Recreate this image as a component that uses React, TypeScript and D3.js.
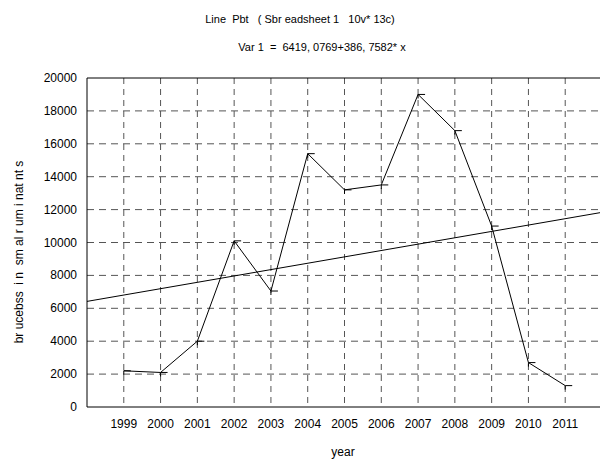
import React, { useEffect, useRef } from 'react';
import * as d3 from 'd3';

// values
const years = [1999, 2000, 2001, 2002, 2003, 2004, 2005, 2006, 2007, 2008, 2009, 2010, 2011];
const cases = [2200, 2100, 4000, 10100, 7050, 15400, 13200, 13500, 19000, 16800, 11000, 2700, 1300];
const yTicks = [0, 2000, 4000, 6000, 8000, 10000, 12000, 14000, 16000, 18000, 20000];
const fitIntercept = 6419.0769;
const fitSlope = 386.7582;

const title = 'Line  Pbt   ( Sbr eadsheet 1   10v* 13c)';
const subtitle = 'Var 1  =  6419, 0769+386, 7582* x';
const yTitle = 'br ucebss  i n  sm al r um i nat nt s';
const xTitle = 'year';

const App = () => {
  const ref = useRef<SVGSVGElement>(null);

  useEffect(() => {
    const svg = d3.select(ref.current);
    svg.selectAll('*').remove();

    const margin = { top: 78, right: 0, bottom: 52, left: 87 };
    const width = 600, height = 459;
    const font = 'Liberation Sans, Arial, sans-serif';

    const x = d3.scaleLinear().domain([1998, 2012]).range([margin.left, 602]);
    const y = d3.scaleLinear().domain([0, 20000]).range([height - margin.bottom, margin.top]);

    const g = svg.append('g');

    // dashed grid
    g.selectAll('.vgrid')
      .data(years)
      .enter()
      .append('line')
      .attr('x1', d => x(d)).attr('x2', d => x(d))
      .attr('y1', y(20000)).attr('y2', y(0))
      .attr('stroke', '#555').attr('stroke-width', 1)
      .attr('stroke-dasharray', '6,5');

    g.selectAll('.hgrid')
      .data(yTicks.filter(t => t > 0 && t < 20000))
      .enter()
      .append('line')
      .attr('x1', x(1998)).attr('x2', width)
      .attr('y1', d => y(d)).attr('y2', d => y(d))
      .attr('stroke', '#555').attr('stroke-width', 1)
      .attr('stroke-dasharray', '7,5');

    // frame
    g.append('path')
      .attr('d', `M${width},${y(20000)}H${x(1998)}V${y(0)}H${width}`)
      .attr('fill', 'none').attr('stroke', '#000').attr('stroke-width', 1);

    // axes labels
    g.selectAll('.ylab')
      .data(yTicks)
      .enter()
      .append('text')
      .attr('x', 77).attr('y', d => y(d) + 4)
      .attr('text-anchor', 'end')
      .attr('font-family', font).attr('font-size', 12)
      .text(d => d);

    g.selectAll('.xlab')
      .data(years)
      .enter()
      .append('text')
      .attr('x', d => x(d)).attr('y', y(0) + 21)
      .attr('text-anchor', 'middle')
      .attr('font-family', font).attr('font-size', 12)
      .text(d => d);

    // regression line
    const fit = d3.line<number>()
      .x(d => x(d))
      .y(d => y(fitIntercept + fitSlope * (d - 1998)));
    g.append('path')
      .datum([1998, 2012])
      .attr('d', fit)
      .attr('fill', 'none').attr('stroke', '#000').attr('stroke-width', 1);

    // data line
    const line = d3.line<number>()
      .x((d, i) => x(years[i]))
      .y(d => y(d));
    g.append('path')
      .datum(cases)
      .attr('d', line)
      .attr('fill', 'none').attr('stroke', '#000').attr('stroke-width', 1);

    // small markers
    g.selectAll('.mark')
      .data(cases)
      .enter()
      .append('path')
      .attr('d', (d, i) => `M${x(years[i])},${y(d) + 4}V${y(d)}H${x(years[i]) + 7}`)
      .attr('fill', 'none').attr('stroke', '#000').attr('stroke-width', 1);

    // titles
    svg.append('text')
      .attr('x', 300).attr('y', 23)
      .attr('text-anchor', 'middle')
      .attr('font-family', font).attr('font-size', 11)
      .style('white-space', 'pre')
      .text(title);

    svg.append('text')
      .attr('x', 322).attr('y', 51)
      .attr('text-anchor', 'middle')
      .attr('font-family', font).attr('font-size', 11)
      .style('white-space', 'pre')
      .text(subtitle);

    svg.append('text')
      .attr('transform', `translate(23,252) rotate(-90)`)
      .attr('text-anchor', 'middle')
      .attr('font-family', font).attr('font-size', 12)
      .style('white-space', 'pre')
      .text(yTitle);

    svg.append('text')
      .attr('x', 343).attr('y', 456)
      .attr('text-anchor', 'middle')
      .attr('font-family', font).attr('font-size', 12)
      .text(xTitle);
  }, []);

  return (
    <svg
      ref={ref}
      width={600}
      height={459}
      style={{ position: 'absolute', left: 0, top: 0, background: '#fff' }}
    />
  );
};

export default App;
